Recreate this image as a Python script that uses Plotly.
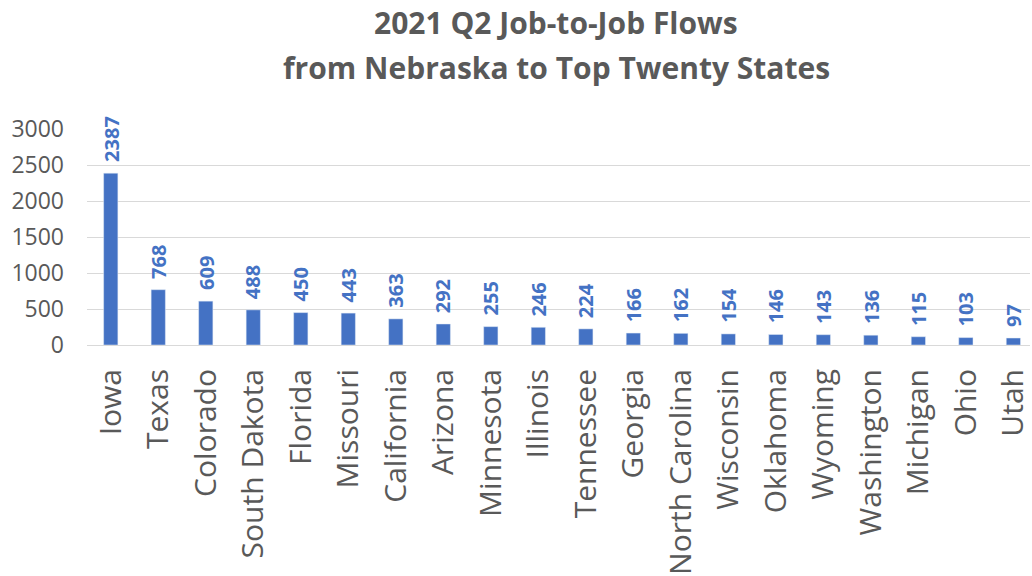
import plotly.graph_objects as go

states = ["Iowa", "Texas", "Colorado", "South Dakota", "Florida", "Missouri",
          "California", "Arizona", "Minnesota", "Illinois", "Tennessee", "Georgia",
          "North Carolina", "Wisconsin", "Oklahoma", "Wyoming", "Washington",
          "Michigan", "Ohio", "Utah"]
flows = [2387, 768, 609, 488, 450, 443, 363, 292, 255, 246, 224, 166,
         162, 154, 146, 143, 136, 115, 103, 97]
title_lines = ["2021 Q2 Job-to-Job Flows", "from Nebraska to Top Twenty States"]

blue = "#4472C4"
gray = "#595959"

fig = go.Figure(go.Bar(x=states, y=flows, width=0.3, marker_color=blue, cliponaxis=False))

for s, v in zip(states, flows):
    fig.add_annotation(x=s, y=v, text=f"<b>{v}</b>", textangle=-90, showarrow=False,
                       xanchor="center", yanchor="bottom", yshift=9,
                       font=dict(family="Open Sans", size=20, color=blue))

for i, line in enumerate(title_lines):
    fig.add_annotation(xref="paper", yref="paper", x=0.5, y=1, text=f"<b>{line}</b>",
                       showarrow=False, xanchor="center", yanchor="middle",
                       yshift=129 - 22 - 45 * i, xshift=557 - (87 + 945 / 2),
                       font=dict(family="Open Sans", size=30, color=gray))

fig.update_layout(
    width=1032, height=576,
    margin=dict(l=87, r=0, t=129, b=231),
    plot_bgcolor="white", paper_bgcolor="white",
    showlegend=False,
)
fig.update_xaxes(range=[-0.5, 19.35], tickangle=-90,
                 tickfont=dict(family="Open Sans", size=30, color=gray),
                 showline=True, linecolor="#d9d9d9", ticks="", ticklen=0,
                 ticklabelstandoff=11)
fig.update_yaxes(range=[0, 3000], dtick=500, gridcolor="#d9d9d9", gridwidth=1,
                 tickfont=dict(family="Open Sans", size=23, color=gray),
                 zeroline=False, ticklabelstandoff=22)

fig.write_html("out.html")
